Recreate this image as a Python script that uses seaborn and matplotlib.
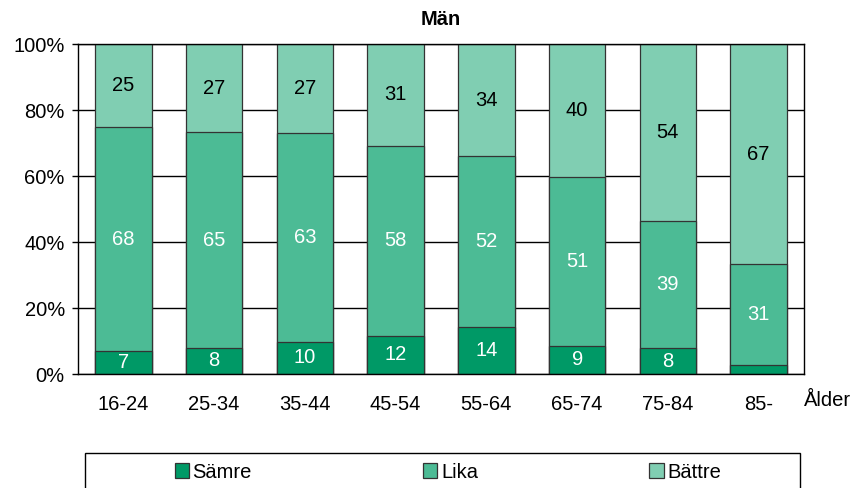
import matplotlib
matplotlib.use("Agg")
import matplotlib.pyplot as plt
import matplotlib.patches as mpatches
import seaborn as sns
import pandas as pd

aldrar = ["16-24", "25-34", "35-44", "45-54", "55-64", "65-74", "75-84", "85-"]
samre = [7.0, 7.9, 9.7, 11.55, 14.2, 8.6, 7.8, 2.6]
lika = [67.8, 65.4, 63.3, 57.55, 51.8, 51.0, 38.6, 30.6]
battre = [25.2, 26.7, 27.0, 30.9, 34.0, 40.4, 53.6, 66.8]

farger = {"Sämre": "#009966", "Lika": "#4CBB95", "Bättre": "#80CEB2"}

df = pd.DataFrame({"alder": aldrar, "Sämre": samre, "Lika": lika, "Bättre": battre})
df["topp_lika"] = df["Sämre"] + df["Lika"]
df["topp_battre"] = df["topp_lika"] + df["Bättre"]

sns.set_style("white")
plt.rcParams["font.family"] = ["Liberation Sans", "DejaVu Sans"]
plt.rcParams["text.color"] = "black"
plt.rcParams["xtick.color"] = "black"
plt.rcParams["ytick.color"] = "black"
plt.rcParams["axes.labelcolor"] = "black"
fs = 14.5

fig = plt.figure(figsize=(8.55, 4.88), dpi=100)
ax = fig.add_axes([78 / 855, 1 - 374 / 488, (804 - 78) / 855, (374 - 44) / 488])

# staplade staplar: ritas uppifrån och ner, varje lager täcker det förra
bredd = 0.62
kw = dict(edgecolor="#333333", linewidth=0.9, width=bredd, ax=ax, order=aldrar, saturation=1)
sns.barplot(data=df, x="alder", y="topp_battre", color=farger["Bättre"], label="Bättre", **kw)
sns.barplot(data=df, x="alder", y="topp_lika", color=farger["Lika"], label="Lika", **kw)
sns.barplot(data=df, x="alder", y="Sämre", color=farger["Sämre"], label="Sämre", **kw)

for i, row in df.iterrows():
    if row["Sämre"] >= 5:
        ax.text(i, row["Sämre"] / 2, f"{row['Sämre']:.0f}", ha="center", va="center",
                color="white", fontsize=fs)
    ax.text(i, row["Sämre"] + row["Lika"] / 2, f"{row['Lika']:.0f}", ha="center", va="center",
            color="white", fontsize=fs)
    ax.text(i, row["topp_lika"] + row["Bättre"] / 2, f"{row['Bättre']:.0f}", ha="center",
            va="center", color="black", fontsize=fs)

ax.set_ylim(0, 100)
ax.set_xlim(-0.5, len(aldrar) - 0.5)
ax.set_yticks([0, 20, 40, 60, 80, 100])
ax.set_yticklabels([f"{v}%" for v in [0, 20, 40, 60, 80, 100]], fontsize=fs)
ax.tick_params(axis="y", length=4.5, width=1, color="black", pad=5, left=True)
ax.tick_params(axis="x", length=0, pad=15, labelsize=fs)
ax.yaxis.grid(True, color="black", linewidth=1)
ax.set_axisbelow(True)
for s in ax.spines.values():
    s.set_color("black")
    s.set_linewidth(1)
ax.set_xlabel("")
ax.set_ylabel("")
ax.set_title("Män", fontsize=fs, fontweight="bold", pad=14)

fig.text(828 / 855, 1 - 401 / 488, "Ålder", ha="center", va="center", fontsize=fs)

handles, labels = ax.get_legend_handles_labels()
ordning = ["Sämre", "Lika", "Bättre"]
h = [handles[labels.index(n)] for n in ordning]
if ax.legend_:
    ax.legend_.remove()
fig.legend(h, ordning, loc="center", bbox_to_anchor=(448 / 855, 1 - 472 / 488), ncol=3,
           frameon=False, fontsize=fs, handlelength=0.7, handleheight=0.7,
           handletextpad=0.2, columnspacing=8.5)
fig.patches.append(mpatches.Rectangle((85 / 855, -0.05), (800 - 85) / 855, 0.05 + 1 - 453 / 488,
                                      transform=fig.transFigure, fill=False,
                                      edgecolor="black", linewidth=1, clip_on=False))

fig.savefig("out.png", dpi=100)
